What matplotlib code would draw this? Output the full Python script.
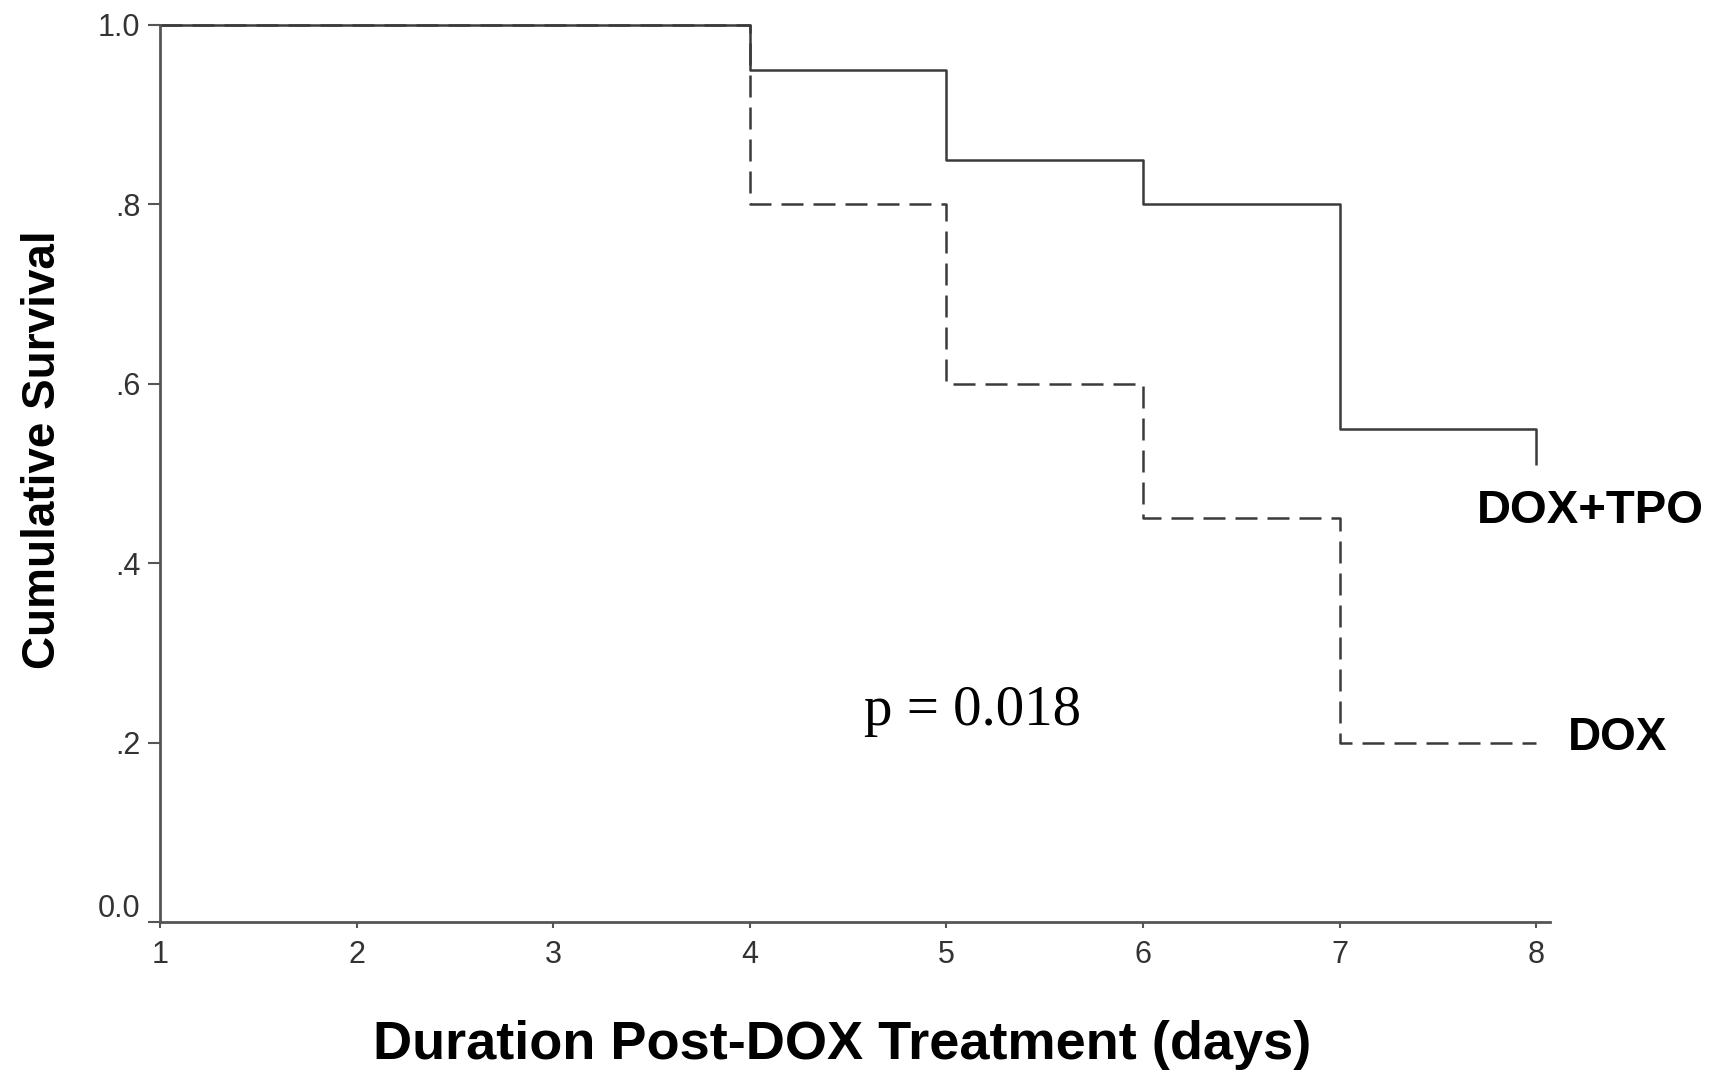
#!/usr/bin/env python3
"""
Kaplan-Meier style survival curves, DOX vs DOX+TPO.
"""

import matplotlib
matplotlib.use("Agg")
import matplotlib.pyplot as plt
from matplotlib.transforms import ScaledTranslation

plt.rcParams["font.family"] = ["Liberation Sans", "DejaVu Sans"]

# data
days = [1, 4, 5, 6, 7, 8]
surv_dox_tpo = [1.0, 0.95, 0.85, 0.80, 0.55, 0.51]
surv_dox = [1.0, 0.80, 0.60, 0.45, 0.20, 0.20]

x_ticks = [1, 2, 3, 4, 5, 6, 7, 8]
y_ticks = [0.0, 0.2, 0.4, 0.6, 0.8, 1.0]
y_tick_labels = ["0.0", ".2", ".4", ".6", ".8", "1.0"]

W, H = 1723, 1076


def main():
    fig = plt.figure(figsize=(W / 100, H / 100), dpi=100)
    ax = fig.add_axes([160 / W, 1 - 922 / H, (1550 - 160) / W, (922 - 25) / H])

    line_col = "#3a3a3a"
    ax.step(days, surv_dox_tpo, where="post", color=line_col, lw=1.8,
            clip_on=False, solid_capstyle="butt")
    ax.step(days, surv_dox, where="post", color=line_col, lw=1.8,
            dashes=(8.8, 4.0), clip_on=False)

    ax.set_xlim(1, 8.07)
    ax.set_ylim(0, 1.0)

    for side in ("top", "right"):
        ax.spines[side].set_visible(False)
    for side in ("left", "bottom"):
        ax.spines[side].set_color("#555555")
        ax.spines[side].set_linewidth(2.0)

    ax.set_xticks(x_ticks)
    ax.set_xticklabels([str(t) for t in x_ticks])
    ax.set_yticks(y_ticks)
    ax.set_yticklabels(y_tick_labels)
    ax.tick_params(axis="y", direction="out", length=9, width=1.5, color="#555555",
                   labelsize=22, labelcolor="#333333", pad=5)
    ax.tick_params(axis="x", direction="out", length=4, width=1.5, color="#555555",
                   labelsize=22, labelcolor="#333333", pad=9)

    # the 0.0 label sits a little above its tick in the original
    lab0 = ax.get_yticklabels()[0]
    lab0.set_transform(lab0.get_transform() + ScaledTranslation(0, 12 / 72, fig.dpi_scale_trans))

    ax.set_xlabel("Duration Post-DOX Treatment (days)", fontsize=39, fontweight="bold", labelpad=36)
    ax.set_ylabel("Cumulative Survival", fontsize=33, fontweight="bold", labelpad=24)
    ax.xaxis.label.set_x(0.491)
    ax.yaxis.label.set_y(0.526)

    ax.text(7.70, 0.458, "DOX+TPO", fontsize=34, fontweight="bold", ha="left", va="center",
            clip_on=False)
    ax.text(8.16, 0.205, "DOX", fontsize=33, fontweight="bold", ha="left", va="center",
            clip_on=False)
    ax.text(4.58, 0.235, "p = 0.018", fontsize=41, ha="left", va="center",
            family=["Liberation Serif", "DejaVu Serif"])

    fig.savefig("out.png", dpi=100)


if __name__ == "__main__":
    main()
